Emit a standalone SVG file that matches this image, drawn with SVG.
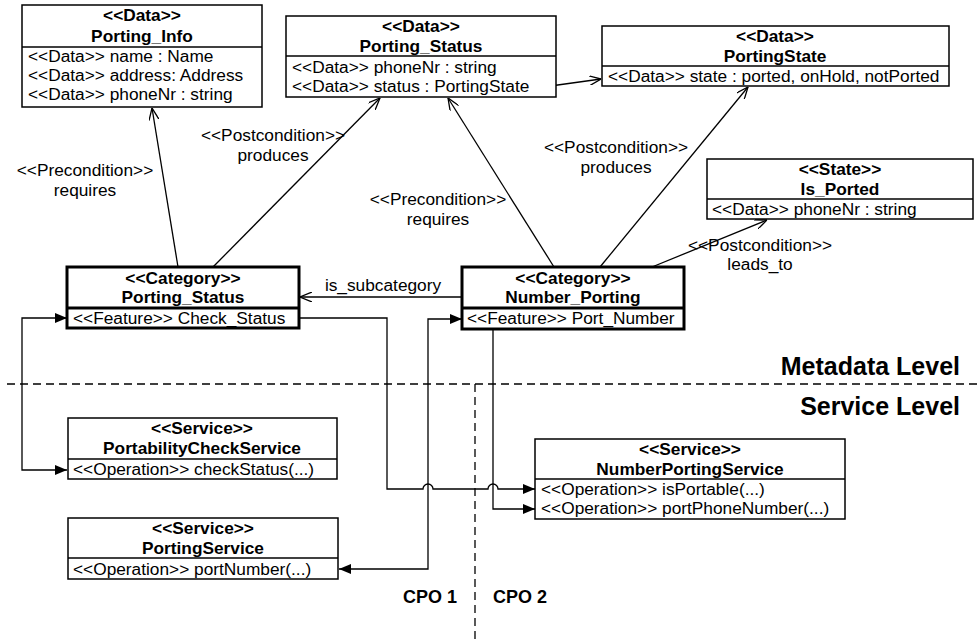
<svg xmlns="http://www.w3.org/2000/svg" width="979" height="640" viewBox="0 0 979 640">
<style>
text{font-family:"Liberation Sans",Arial,Helvetica,sans-serif;font-size:17.3px;fill:#000}
.b{font-weight:bold}
.c{text-anchor:middle}
.box{fill:#fff;stroke:#000;stroke-width:1.5}
.cat{fill:#fff;stroke:#000;stroke-width:3}
.dv{stroke:#000;stroke-width:1.5}
.dvc{stroke:#000;stroke-width:3}
.dep{fill:none;stroke:#000;stroke-width:1.3;marker-end:url(#open)}
.lnk{fill:none;stroke:#000;stroke-width:1.3}
.dash{fill:none;stroke:#000;stroke-width:1.3;stroke-dasharray:8 5}
.lvl{font-size:25px;font-weight:bold;text-anchor:end}
.cpo{font-size:18px;font-weight:bold;text-anchor:middle}
</style>
<defs>
<marker id="open" viewBox="0 0 12 10" refX="12" refY="5" markerWidth="12" markerHeight="10" markerUnits="userSpaceOnUse" orient="auto">
<path d="M0,0 L12,5 L0,10" fill="none" stroke="#000" stroke-width="1.3"/>
</marker>
<marker id="fill" viewBox="0 0 12 10" refX="12" refY="5" markerWidth="12" markerHeight="10" markerUnits="userSpaceOnUse" orient="auto-start-reverse">
<path d="M0,0 L12,5 L0,10 Z" fill="#000"/>
</marker>
</defs>

<g id="levels">
<path class="dash" d="M7,384 H979"/>
<path class="dash" d="M475,384 V640"/>
<text class="lvl" x="960" y="375">Metadata Level</text>
<text class="lvl" x="960" y="415">Service Level</text>
<text class="cpo" x="430" y="603">CPO 1</text>
<text class="cpo" x="520" y="603">CPO 2</text>
</g>

<g id="connectors">
<path class="dep" d="M178,267 L152,108"/>
<path class="dep" d="M213,267 L380,98"/>
<path class="dep" d="M554,267 L448,98"/>
<path class="dep" d="M600,267 L748,87"/>
<path class="dep" d="M652,267 L767,220"/>
<path class="dep" d="M536,88 L601,79"/>
<path class="dep" d="M462,297 L300,297"/>
<path class="lnk" d="M67,318 H22 V470 H67" marker-start="url(#fill)" marker-end="url(#fill)"/>
<path class="lnk" d="M299,318 H387 V489 H423 A5,5 0 0 1 433,489 H488 A5,5 0 0 1 498,489 H535" marker-end="url(#fill)"/>
<path class="lnk" d="M462,319 H428 V569 H339" marker-start="url(#fill)" marker-end="url(#fill)"/>
<path class="lnk" d="M493,329 V509 H535" marker-end="url(#fill)"/>
<text class="c" x="85" y="176">&lt;&lt;Precondition&gt;&gt;</text>
<text class="c" x="85" y="196">requires</text>
<text class="c" x="273" y="141">&lt;&lt;Postcondition&gt;&gt;</text>
<text class="c" x="273" y="161">produces</text>
<text class="c" x="438" y="205">&lt;&lt;Precondition&gt;&gt;</text>
<text class="c" x="438" y="225">requires</text>
<text class="c" x="616" y="153">&lt;&lt;Postcondition&gt;&gt;</text>
<text class="c" x="616" y="173">produces</text>
<text class="c" x="760" y="251">&lt;&lt;Postcondition&gt;&gt;</text>
<text class="c" x="760" y="270">leads_to</text>
<text class="c" x="383" y="291">is_subcategory</text>
</g>

<g id="porting-info">
<rect class="box" x="22" y="5" width="240" height="102"/>
<line class="dv" x1="22" y1="47" x2="262" y2="47"/>
<text class="b c" x="142" y="21">&lt;&lt;Data&gt;&gt;</text>
<text class="b c" x="142" y="42">Porting_Info</text>
<text x="28" y="62">&lt;&lt;Data&gt;&gt; name : Name</text>
<text x="28" y="81">&lt;&lt;Data&gt;&gt; address: Address</text>
<text x="28" y="100">&lt;&lt;Data&gt;&gt; phoneNr : string</text>
</g>

<g id="porting-status-data">
<rect class="box" x="286" y="16" width="270" height="81"/>
<line class="dv" x1="286" y1="56" x2="556" y2="56"/>
<text class="b c" x="421" y="32">&lt;&lt;Data&gt;&gt;</text>
<text class="b c" x="421" y="52">Porting_Status</text>
<text x="292" y="73">&lt;&lt;Data&gt;&gt; phoneNr : string</text>
<text x="292" y="92">&lt;&lt;Data&gt;&gt; status : PortingState</text>
</g>

<g id="porting-state">
<rect class="box" x="602" y="26" width="347" height="60"/>
<line class="dv" x1="602" y1="66" x2="949" y2="66"/>
<text class="b c" x="775" y="42">&lt;&lt;Data&gt;&gt;</text>
<text class="b c" x="775" y="62">PortingState</text>
<text x="608" y="82">&lt;&lt;Data&gt;&gt; state : ported, onHold, notPorted</text>
</g>

<g id="is-ported">
<rect class="box" x="707" y="159" width="266" height="60"/>
<line class="dv" x1="707" y1="199" x2="973" y2="199"/>
<text class="b c" x="840" y="175">&lt;&lt;State&gt;&gt;</text>
<text class="b c" x="840" y="195">Is_Ported</text>
<text x="712" y="215">&lt;&lt;Data&gt;&gt; phoneNr : string</text>
</g>

<g id="cat-porting-status">
<rect class="cat" x="67" y="267" width="232" height="61"/>
<line class="dvc" x1="67" y1="308" x2="299" y2="308"/>
<text class="b c" x="183" y="284">&lt;&lt;Category&gt;&gt;</text>
<text class="b c" x="183" y="303">Porting_Status</text>
<text x="73" y="324">&lt;&lt;Feature&gt;&gt; Check_Status</text>
</g>

<g id="cat-number-porting">
<rect class="cat" x="462" y="267" width="222" height="62"/>
<line class="dvc" x1="462" y1="308" x2="684" y2="308"/>
<text class="b c" x="573" y="284">&lt;&lt;Category&gt;&gt;</text>
<text class="b c" x="573" y="303">Number_Porting</text>
<text x="467" y="324">&lt;&lt;Feature&gt;&gt; Port_Number</text>
</g>

<g id="portability-check-service">
<rect class="box" x="68" y="418" width="269" height="61"/>
<line class="dv" x1="68" y1="459" x2="337" y2="459"/>
<text class="b c" x="202" y="434">&lt;&lt;Service&gt;&gt;</text>
<text class="b c" x="202" y="454">PortabilityCheckService</text>
<text x="73" y="475">&lt;&lt;Operation&gt;&gt; checkStatus(...)</text>
</g>

<g id="number-porting-service">
<rect class="box" x="535" y="439" width="310" height="80"/>
<line class="dv" x1="535" y1="479" x2="845" y2="479"/>
<text class="b c" x="690" y="455">&lt;&lt;Service&gt;&gt;</text>
<text class="b c" x="690" y="475">NumberPortingService</text>
<text x="541" y="495">&lt;&lt;Operation&gt;&gt; isPortable(...)</text>
<text x="541" y="514">&lt;&lt;Operation&gt;&gt; portPhoneNumber(...)</text>
</g>

<g id="porting-service">
<rect class="box" x="68" y="518" width="270" height="61"/>
<line class="dv" x1="68" y1="558" x2="338" y2="558"/>
<text class="b c" x="203" y="534">&lt;&lt;Service&gt;&gt;</text>
<text class="b c" x="203" y="554">PortingService</text>
<text x="73" y="575">&lt;&lt;Operation&gt;&gt; portNumber(...)</text>
</g>
</svg>
